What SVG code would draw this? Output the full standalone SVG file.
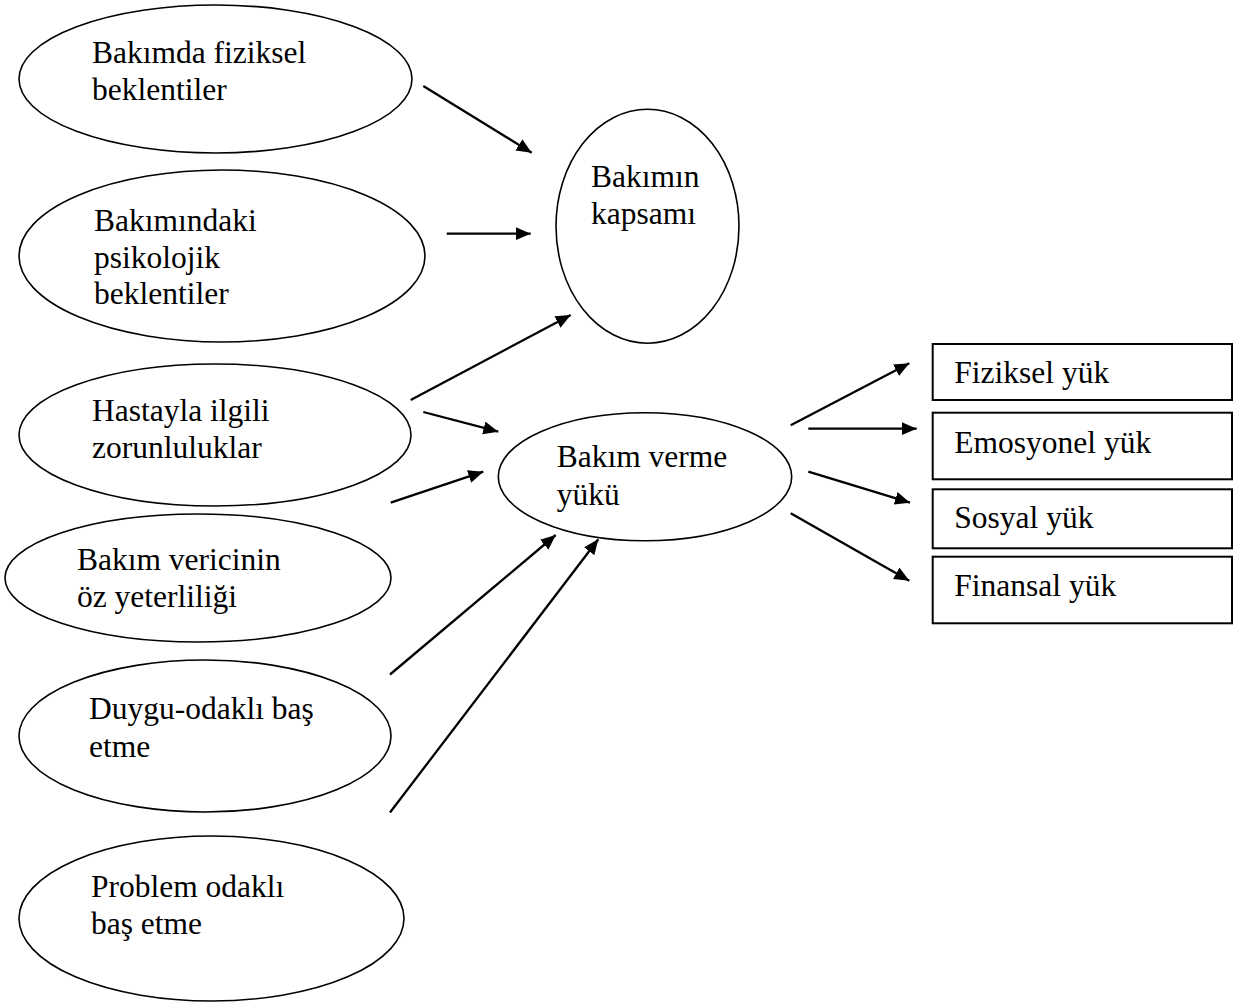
<svg xmlns="http://www.w3.org/2000/svg" width="1237" height="1002" viewBox="0 0 1237 1002">
<style>
.n{fill:#fff;stroke:#000;stroke-width:1.6}
.b{fill:#fff;stroke:#000;stroke-width:2}
.t{font-family:"Liberation Serif","Times New Roman",serif;font-size:31.5px;fill:#000}
.c line{stroke:#000;stroke-width:2.3;marker-end:url(#ah)}
</style>
<defs>
<marker id="ah" markerUnits="userSpaceOnUse" markerWidth="16" markerHeight="14" refX="15" refY="6.5" orient="auto">
<path d="M0,0 L15,6.5 L0,13 z" fill="#000"/>
</marker>
</defs>
<rect width="1237" height="1002" fill="#fff"/>
<g id="n-fiziksel-beklenti">
<ellipse class="n" cx="215.5" cy="79" rx="196.5" ry="74"/>
<text class="t"><tspan x="92" y="63">Bakımda fiziksel</tspan><tspan x="92" y="100">beklentiler</tspan></text>
</g>
<g id="n-psikolojik">
<ellipse class="n" cx="222" cy="256" rx="203" ry="86"/>
<text class="t"><tspan x="94" y="231">Bakımındaki</tspan><tspan x="94" y="267.5">psikolojik</tspan><tspan x="94" y="304">beklentiler</tspan></text>
</g>
<g id="n-hastayla">
<ellipse class="n" cx="215" cy="435" rx="196" ry="71"/>
<text class="t"><tspan x="92" y="421">Hastayla ilgili</tspan><tspan x="92" y="458">zorunluluklar</tspan></text>
</g>
<g id="n-ozyeterlilik">
<ellipse class="n" cx="198" cy="578" rx="193" ry="64"/>
<text class="t"><tspan x="77" y="570">Bakım vericinin</tspan><tspan x="77" y="607">öz yeterliliği</tspan></text>
</g>
<g id="n-duygu">
<ellipse class="n" cx="205" cy="736" rx="186" ry="76"/>
<text class="t"><tspan x="89" y="719">Duygu-odaklı baş</tspan><tspan x="89" y="756.5">etme</tspan></text>
</g>
<g id="n-problem">
<ellipse class="n" cx="211.5" cy="918.5" rx="192.5" ry="82.5"/>
<text class="t"><tspan x="91" y="897">Problem odaklı</tspan><tspan x="91" y="933.5">baş etme</tspan></text>
</g>
<g id="n-kapsam">
<ellipse class="n" cx="647.5" cy="226.3" rx="91.5" ry="117"/>
<text class="t"><tspan x="591" y="186.7">Bakımın</tspan><tspan x="591" y="224">kapsamı</tspan></text>
</g>
<g id="n-yuk">
<ellipse class="n" cx="645" cy="476.7" rx="146.7" ry="64"/>
<text class="t"><tspan x="556.7" y="466.7">Bakım verme</tspan><tspan x="556.7" y="505">yükü</tspan></text>
</g>
<g id="n-fiziksel-yuk">
<rect class="b" x="932.7" y="344" width="299.3" height="56"/>
<text class="t" x="954.3" y="383.3">Fiziksel yük</text>
</g>
<g id="n-emosyonel-yuk">
<rect class="b" x="932.7" y="412.7" width="299.3" height="66.6"/>
<text class="t" x="954.3" y="453.3">Emosyonel yük</text>
</g>
<g id="n-sosyal-yuk">
<rect class="b" x="932.7" y="489.3" width="299.3" height="59"/>
<text class="t" x="954.3" y="528.3">Sosyal yük</text>
</g>
<g id="n-finansal-yuk">
<rect class="b" x="932.7" y="556.7" width="299.3" height="66.6"/>
<text class="t" x="954.3" y="595.7">Finansal yük</text>
</g>
<g id="connectors" class="c">
<line x1="423.3" y1="86" x2="531.7" y2="152.7"/>
<line x1="446.7" y1="233.7" x2="530.7" y2="233.7"/>
<line x1="410.7" y1="400" x2="570.7" y2="315"/>
<line x1="423.3" y1="412" x2="498.3" y2="431.7"/>
<line x1="390.7" y1="502.7" x2="483.3" y2="471.7"/>
<line x1="390" y1="674.5" x2="555.7" y2="535"/>
<line x1="390" y1="812.5" x2="598.3" y2="539.3"/>
<line x1="790.7" y1="425.3" x2="909.3" y2="363.3"/>
<line x1="808.3" y1="428.7" x2="916.7" y2="428.7"/>
<line x1="808.3" y1="471.7" x2="910" y2="502.7"/>
<line x1="790.7" y1="513.3" x2="909.3" y2="580.7"/>
</g>
</svg>
